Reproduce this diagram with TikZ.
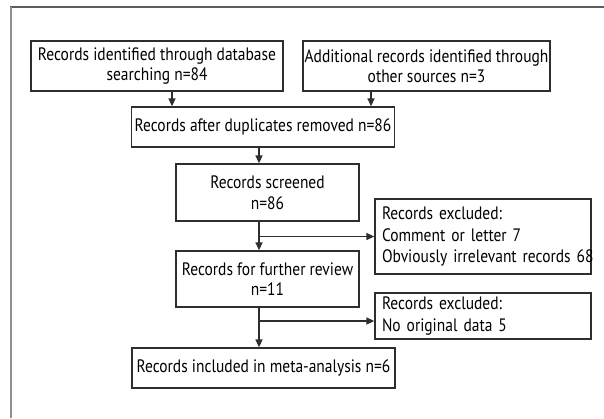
\documentclass[tikz,border=0pt]{standalone}
\usepackage{fontspec}
\setmainfont[FakeStretch=0.86]{PT Sans}
\usepackage{tikz}
\usetikzlibrary{arrows.meta,positioning,calc}
\definecolor{prismaInk}{HTML}{2E2E2E}
\definecolor{prismaFrame}{HTML}{5E5E5E}
\definecolor{prismaEdge}{HTML}{8E8E8E}
\tikzset{
  record/.style={
    rectangle,
    draw=prismaInk,
    fill=white,
    line width=1.3pt,
    inner sep=0pt,
    align=center,
    font=\fontsize{18}{20.5}\selectfont
  },
  recordLeft/.style={
    record,
    align=left,
    font=\fontsize{18}{21.5}\selectfont
  },
  arrow/.style={
    -{Triangle[length=8pt,width=7pt]},
    line width=1.4pt,
    draw=prismaInk
  }
}

\begin{document}
\begin{tikzpicture}[x=1pt,y=-1pt]
  \useasboundingbox (0,0) rectangle (604,418);
  \draw[prismaFrame,line width=1.3pt] (10,7) -- (604,7);
  \draw[prismaEdge,line width=2pt] (11,7) -- (11,418);
  \node[record,minimum width=252pt,minimum height=50pt] (identified) at (157,66) {Records identified through database\\searching n=84};
  \node[record,minimum width=247pt,minimum height=50pt] (additional) at (426.5,66) {Additional records identified through\\other sources n=3};
  \node[record,minimum width=263pt,minimum height=40pt] (deduplicated) at (263,127) {Records after duplicates removed n=86};
  \node[record,minimum width=183pt,minimum height=57pt] (screened) at (267.5,192.5) {Records screened\\n=86};
  \node[record,minimum width=183pt,minimum height=56pt] (review) at (267.5,279) {Records for further review\\n=11};
  \node[record,minimum width=263pt,minimum height=40pt] (included) at (263.5,368) {Records included in meta-analysis n=6};
  \node[recordLeft,minimum width=216pt,minimum height=75pt,text width=202pt] (excludedA) at (483,236.5) {Records excluded:\\Comment or letter 7\\\mbox{Obviously irrelevant records 68}};
  \node[recordLeft,minimum width=216pt,minimum height=46pt,text width=202pt] (excludedB) at (483,316) {Records excluded:\\No original data 5};
  \coordinate (leftDrop) at (172,0);
  \coordinate (rightDrop) at (371,0);
  \coordinate (spine) at (259,0);
  \draw[arrow] (identified.south -| leftDrop) -- (deduplicated.north -| leftDrop);
  \draw[arrow] (additional.south -| rightDrop) -- (deduplicated.north -| rightDrop);
  \draw[arrow] (deduplicated.south -| spine) -- (screened.north -| spine);
  \draw[arrow] (screened.south -| spine) -- (review.north -| spine);
  \draw[arrow] (spine |- excludedA.west) -- (excludedA.west);
  \draw[arrow] (review.south -| spine) -- (included.north -| spine);
  \draw[arrow] ($(spine |- excludedB.west)+(0,5)$) -- ($(excludedB.west)+(0,5)$);
\end{tikzpicture}
\end{document}
